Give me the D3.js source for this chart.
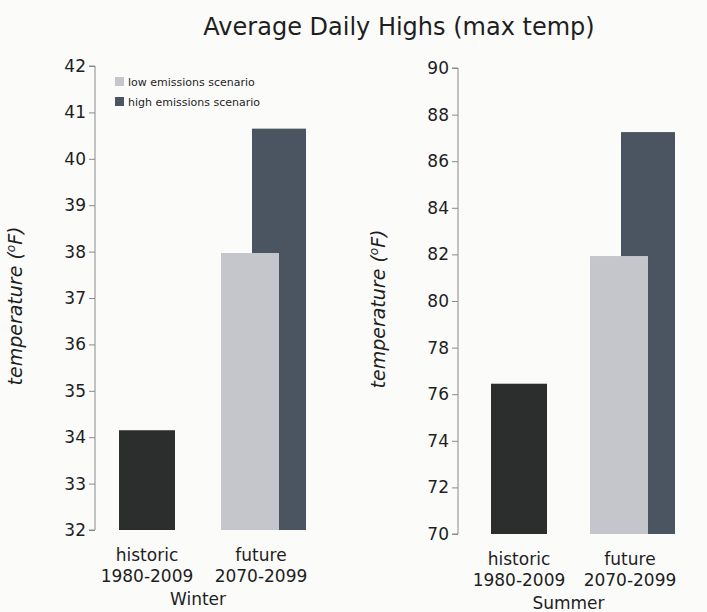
<html>
  <head>
    <script src="https://d3js.org/d3.v7.min.js"></script>
    <style>
      body { margin: 0; background: #fbfbfa; }
      text { font-family: "DejaVu Sans", sans-serif; fill: #1e1e1e; }
    </style>
  </head>
  <body>
    <div id="vis"></div>
    <script>
      // Data
      var categories = ["historic", "future"];
      var periods = ["1980-2009", "2070-2099"];
      var seasons = ["Winter", "Summer"];
      var historic = [34.15, 76.45];
      var lowEmissions = [37.97, 81.93];
      var highEmissions = [40.65, 87.25];
      var yDomains = [[32, 42], [70, 90]];
      var yTicks = [d3.range(32, 43, 1), d3.range(70, 91, 2)];
      var legendLabels = ["low emissions scenario", "high emissions scenario"];

      var colors = { historic: "#2b2e2d", low: "#c5c6cb", high: "#4b5461" };

      var width = 707, height = 612;

      var svg = d3
        .select("#vis")
        .append("svg")
        .attr("width", width)
        .attr("height", height);

      // Title
      svg
        .append("text")
        .attr("x", 399)
        .attr("y", 35)
        .attr("text-anchor", "middle")
        .style("font-size", "24px")
        .text("Average Daily Highs (max temp)");

      // Panel positions (axis x, y top, y bottom, bar centres)
      var panels = [
        { left: 95, top: 66, bottom: 530, xr: [52, 154] },
        { left: 458, top: 68, bottom: 534, xr: [61, 160] }
      ];

      var barWidth = 56;
      var highOffset = 31;

      panels.forEach(function (p, i) {
        var g = svg.append("g").attr("transform", "translate(" + p.left + ",0)");

        var y = d3.scaleLinear().domain(yDomains[i]).range([p.bottom, p.top]);
        var x = d3.scalePoint().domain(categories).range(p.xr);

        // y axis
        var axis = g
          .append("g")
          .call(d3.axisLeft(y).tickValues(yTicks[i]).tickSize(6).tickPadding(3));
        axis.select(".domain").attr("stroke", "#8a8a8a").attr("d", "M-6," + p.top + "H0V" + p.bottom + "H-6");
        axis.selectAll(".tick line").attr("stroke", "#8a8a8a");
        axis.selectAll(".tick text")
          .style("font-size", "17px")
          .style("font-family", "'DejaVu Sans', sans-serif")
          .attr("fill", "#1e1e1e");

        // axis title
        var yt = g
          .append("text")
          .attr("transform", "translate(" + (-73) + "," + ((p.top + p.bottom) / 2 + 8) + ") rotate(-90)")
          .attr("text-anchor", "middle")
          .style("font-size", "19px")
          .style("font-style", "italic");
        yt.append("tspan").text("temperature (");
        yt.append("tspan").attr("baseline-shift", "super").style("font-size", "12px").text("o");
        yt.append("tspan").text("F)");

        // bars
        g.append("rect")
          .attr("x", x("historic") - barWidth / 2)
          .attr("y", y(historic[i]))
          .attr("width", barWidth)
          .attr("height", p.bottom - y(historic[i]))
          .attr("fill", colors.historic);

        g.append("rect")
          .attr("x", x("future") - barWidth / 2 + highOffset)
          .attr("y", y(highEmissions[i]))
          .attr("width", barWidth - 2)
          .attr("height", p.bottom - y(highEmissions[i]))
          .attr("fill", colors.high);

        g.append("rect")
          .attr("x", x("future") - barWidth / 2)
          .attr("y", y(lowEmissions[i]))
          .attr("width", barWidth + 2)
          .attr("height", p.bottom - y(lowEmissions[i]))
          .attr("fill", colors.low);

        // category labels
        categories.forEach(function (c, j) {
          var cx = x(c) + (j === 1 ? 12 : 0);
          g.append("text")
            .attr("x", cx)
            .attr("y", p.bottom + 31)
            .attr("text-anchor", "middle")
            .style("font-size", "17px")
            .text(c);
          g.append("text")
            .attr("x", cx)
            .attr("y", p.bottom + 52)
            .attr("text-anchor", "middle")
            .style("font-size", "17px")
            .text(periods[j]);
        });

        g.append("text")
          .attr("x", (x("historic") + x("future")) / 2)
          .attr("y", p.bottom + 75)
          .attr("text-anchor", "middle")
          .style("font-size", "17px")
          .text(seasons[i]);
      });

      // Legend
      var legend = svg.append("g").attr("transform", "translate(115,77)");
      legendLabels.forEach(function (l, k) {
        legend.append("rect")
          .attr("x", 0)
          .attr("y", k * 20)
          .attr("width", 9)
          .attr("height", 9)
          .attr("fill", k === 0 ? colors.low : colors.high);
        legend.append("text")
          .attr("x", 13)
          .attr("y", k * 20 + 9)
          .style("font-size", "11px")
          .text(l);
      });
    </script>
  </body>
</html>
